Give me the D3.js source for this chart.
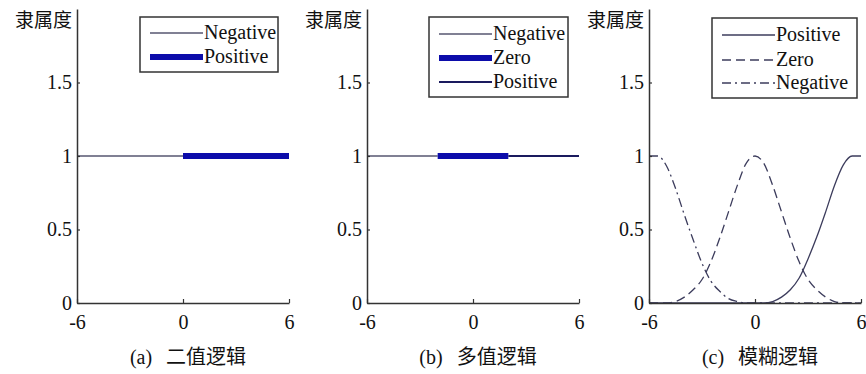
<!DOCTYPE html>
<html>
<head>
<meta charset="utf-8">
<script src="https://cdn.jsdelivr.net/npm/d3@7"></script>
<style>
  body { margin: 0; background: #fff; }
  svg { display: block; }
  .serif { font-family: "Liberation Serif", "Times New Roman", Times, "DejaVu Serif", serif; }
  .cjk { font-family: "Noto Sans CJK SC", sans-serif; }
</style>
</head>
<body>
<div id="chart"></div>
<script>
// tick values and labels
const xTicks = [-6, 0, 6];
const yTicks = [0, 0.5, 1, 1.5];
const yLabel = "隶属度";
const captionTags = ["(a)", "(b)", "(c)"];
const captionTexts = ["二值逻辑", "多值逻辑", "模糊逻辑"];

// (a) two-valued logic
const binaryX = [[-6, 0], [0, 6]];
const binaryY = [[1, 1], [1, 1]];
const binaryNames = ["Negative", "Positive"];

// (b) multi-valued logic
const multiX = [[-6, -2], [-2, 2], [2, 6]];
const multiY = [[1, 1], [1, 1], [1, 1]];
const multiNames = ["Negative", "Zero", "Positive"];

// (c) fuzzy logic, every 0.5
const fuzzyX = [-6, -5.5, -5, -4.5, -4, -3.5, -3, -2.5, -2, -1.5, -1, -0.5, 0,
                0.5, 1, 1.5, 2, 2.5, 3, 3.5, 4, 4.5, 5, 5.5, 6];
const fuzzyPositive = [0, 0, 0, 0, 0, 0, 0, 0, 0, 0, 0, 0, 0,
                       0, 0.01, 0.04, 0.09, 0.17, 0.3, 0.45, 0.62, 0.8, 0.94, 1.0, 1.0];
const fuzzyZero = [0, 0, 0, 0.01, 0.04, 0.09, 0.16, 0.28, 0.44, 0.62, 0.8, 0.95, 1.0,
                   0.95, 0.8, 0.62, 0.44, 0.28, 0.16, 0.09, 0.04, 0.01, 0, 0, 0];
const fuzzyNegative = [1.0, 1.0, 0.93, 0.78, 0.6, 0.43, 0.27, 0.15, 0.08, 0.03, 0.01, 0, 0,
                       0, 0, 0, 0, 0, 0, 0, 0, 0, 0, 0, 0];
const fuzzyNames = ["Positive", "Zero", "Negative"];

const width = 866;
const height = 374;
const plotTop = 9, plotBottom = 303;
const panelLeft = [77, 367, 649];
const panelWidth = 212;

const AXIS_COLOR = "#333";
const THIN = { color: "#565670", width: 1.5, dash: null };
const THICK = { color: "#0c0caa", width: 6, dash: null };
const NAVY = { color: "#1a1a5e", width: 2, dash: null };
const SOLID_C = { color: "#3c3c5c", width: 1.3, dash: null };
const DASH_C = { color: "#3c3c5c", width: 1.3, dash: "9,5" };
const DASHDOT_C = { color: "#3c3c5c", width: 1.3, dash: "9,4,2,4" };

const svg = d3.select("#chart").append("svg")
    .attr("width", width)
    .attr("height", height);

const y = d3.scaleLinear().domain([0, 2]).range([plotBottom, plotTop]);

const panels = [
    {
        series: binaryNames.map((n, i) => ({ name: n, xs: binaryX[i], ys: binaryY[i], style: [THIN, THICK][i] })),
        legend: { x: 140, y: 17, w: 138, rows: [33, 57] }
    },
    {
        series: multiNames.map((n, i) => ({ name: n, xs: multiX[i], ys: multiY[i], style: [THIN, THICK, NAVY][i] })),
        legend: { x: 429, y: 17, w: 139, rows: [34, 58, 82] }
    },
    {
        series: [
            { name: fuzzyNames[0], xs: fuzzyX, ys: fuzzyPositive, style: SOLID_C },
            { name: fuzzyNames[1], xs: fuzzyX, ys: fuzzyZero, style: DASH_C },
            { name: fuzzyNames[2], xs: fuzzyX, ys: fuzzyNegative, style: DASHDOT_C }
        ],
        legend: { x: 712, y: 18, w: 145, rows: [35, 60, 83] },
        smooth: true
    }
];

panels.forEach((p, pi) => {
    const x = d3.scaleLinear().domain([-6, 6]).range([panelLeft[pi], panelLeft[pi] + panelWidth]);
    const g = svg.append("g");

    const line = d3.line()
        .x(d => x(d[0]))
        .y(d => y(d[1]))
        .curve(p.smooth ? d3.curveMonotoneX : d3.curveLinear);

    // series
    p.series.forEach(s => {
        g.append("path")
            .datum(s.xs.map((v, i) => [v, s.ys[i]]))
            .attr("d", line)
            .attr("fill", "none")
            .attr("stroke", s.style.color)
            .attr("stroke-width", s.style.width)
            .attr("stroke-dasharray", s.style.dash);
    });

    // axes
    const yAxis = g.append("g")
        .attr("transform", `translate(${x(-6)},0)`)
        .call(d3.axisLeft(y).tickValues(yTicks).tickFormat(d => String(d))
            .tickSizeInner(-3).tickSizeOuter(0).tickPadding(5));
    const xAxis = g.append("g")
        .attr("transform", `translate(0,${y(0)})`)
        .call(d3.axisBottom(x).tickValues(xTicks).tickFormat(d => String(d))
            .tickSizeInner(-4).tickSizeOuter(0).tickPadding(12));

    [yAxis, xAxis].forEach(a => {
        a.attr("font-family", null).attr("font-size", null);
        a.select(".domain").attr("stroke", AXIS_COLOR).attr("stroke-width", 1.5);
        a.selectAll(".tick line").attr("stroke", AXIS_COLOR).attr("stroke-width", 1.2);
        a.selectAll(".tick text")
            .attr("class", "serif")
            .attr("fill", "#111")
            .style("font-size", "20px");
    });

    g.append("text")
        .attr("class", "cjk")
        .attr("x", x(-6) - 5)
        .attr("y", 27)
        .attr("text-anchor", "end")
        .style("font-size", "19px")
        .attr("fill", "#111")
        .text(yLabel);

    // legend
    const L = p.legend;
    g.append("rect")
        .attr("x", L.x).attr("y", L.y)
        .attr("width", L.w).attr("height", (L.rows[L.rows.length - 1] - L.y) + 15)
        .attr("fill", "#fff")
        .attr("stroke", AXIS_COLOR)
        .attr("stroke-width", 1.5);
    p.series.forEach((s, i) => {
        const ly = L.rows[i];
        g.append("line")
            .attr("x1", L.x + 10).attr("x2", L.x + 63)
            .attr("y1", ly).attr("y2", ly)
            .attr("stroke", s.style.color)
            .attr("stroke-width", s.style.width)
            .attr("stroke-dasharray", s.style.dash);
        g.append("text")
            .attr("class", "serif")
            .attr("x", L.x + 64)
            .attr("y", ly + 6)
            .style("font-size", "20px")
            .attr("fill", "#111")
            .text(s.name);
    });

    // caption
    const cap = g.append("text")
        .attr("x", x(0) + 5)
        .attr("y", 364)
        .attr("text-anchor", "middle")
        .attr("fill", "#111")
        .style("font-size", "20px");
    cap.append("tspan")
        .attr("class", "serif")
        .text(captionTags[pi]);
    cap.append("tspan")
        .attr("class", "cjk")
        .attr("dx", 14)
        .text(captionTexts[pi]);
});
</script>
</body>
</html>
